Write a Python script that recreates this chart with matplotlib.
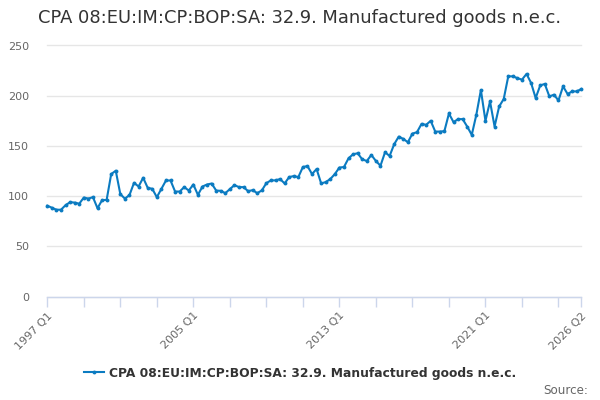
import matplotlib
matplotlib.use("Agg")
import matplotlib.pyplot as plt
import numpy as np

# Quarterly values 1997 Q1 .. 2026 Q2
values = [
    90.5, 88.5, 86.5, 86.5,      # 1997
    91, 94, 93.6, 92.5,          # 1998
    98.6, 97.6, 99, 88,          # 1999
    96, 96.3, 122, 125.3,        # 2000
    102, 97.6, 101, 113.3,       # 2001
    109.6, 118.3, 108.3, 107.3,  # 2002
    99, 107.3, 115.6, 115.6,     # 2003
    104.6, 104.6, 109, 105.6,    # 2004
    111.6, 101.3, 109.6, 111.6,  # 2005
    112.6, 105.6, 105.3, 103,    # 2006
    107, 111, 109, 109,          # 2007
    105, 106, 103, 105.7,        # 2008
    113, 115.7, 115.7, 117,      # 2009
    112.7, 119, 120, 119,        # 2010
    129, 130, 122, 127,          # 2011
    112.7, 114, 117, 122,        # 2012
    128.5, 129, 137.7, 141.7,    # 2013
    142.7, 136.7, 135, 141,      # 2014
    135, 130.3, 143.7, 140,      # 2015
    151.7, 159.3, 157, 153.7,    # 2016
    162.3, 163.7, 172, 171,      # 2017
    175, 164.3, 164.3, 164.7,    # 2018
    182.3, 173.7, 176.7, 176.7,  # 2019
    169.3, 161, 181, 205.7,      # 2020
    175, 194.3, 169.3, 189.3,    # 2021
    196.7, 219.3, 219.3, 217.5,  # 2022
    216, 221.7, 212.7, 197.7,    # 2023
    210.3, 211.7, 199.3, 201,    # 2024
    195.3, 209.3, 201.7, 204.3,  # 2025
    204.3, 206.7,                # 2026
]
first_year = 1997
series_name = "CPA 08:EU:IM:CP:BOP:SA: 32.9. Manufactured goods n.e.c."
title = "CPA 08:EU:IM:CP:BOP:SA: 32.9. Manufactured goods n.e.c."
y_ticks = [0, 50, 100, 150, 200, 250]

n = len(values)
labels = [f"{first_year + i // 4} Q{i % 4 + 1}" for i in range(n)]
x = np.arange(n)

line_color = "#0b7bc1"
grid_color = "#e6e6e6"
axis_color = "#ccd6eb"
label_color = "#666666"

fig = plt.figure(figsize=(6, 4), dpi=100)
ax = fig.add_axes([47.3 / 600, 1 - 296.6 / 400, (581.3 - 47.3) / 600, (296.6 - 45.5) / 400])

ax.plot(x, values, color=line_color, lw=1.5, marker="o", markersize=2.8,
        markeredgewidth=0, label=series_name, clip_on=False, zorder=3)

ax.set_xlim(0, n - 1)
ax.set_ylim(0, 250)
ax.set_yticks(y_ticks)
ax.set_yticklabels([str(v) for v in y_ticks])
ax.grid(axis="y", color=grid_color, lw=1)
for gl in ax.get_ygridlines():
    gl.set_clip_on(False)
ax.set_axisbelow(True)

tick_pos = list(range(0, n, 8)) + [n - 1]
ax.set_xticks(tick_pos)
label_idx = {0, 32, 64, 96, n - 1}
ax.set_xticklabels([labels[i] if i in label_idx else "" for i in tick_pos],
                   rotation=45, ha="right", rotation_mode="anchor")

for s in ["top", "right", "left"]:
    ax.spines[s].set_visible(False)
ax.spines["bottom"].set_color(axis_color)
ax.spines["bottom"].set_linewidth(1)
ax.tick_params(axis="x", colors=axis_color, length=7, width=1, labelcolor=label_color,
               labelsize=8, pad=3)
ax.tick_params(axis="y", length=0, labelcolor=label_color, labelsize=8, pad=13)

fig.text(0.5, 1 - 18 / 400, title, ha="center", va="center", fontsize=12.9, color="#333333")

leg = fig.legend(loc="center", bbox_to_anchor=(0.5, 1 - 373 / 400), frameon=False,
                 prop={"weight": "bold", "size": 8.8}, handlelength=1.6, handletextpad=0.4)
for t in leg.get_texts():
    t.set_color("#333333")

fig.text(588 / 600, 1 - 390 / 400, "Source:", ha="right", va="center", fontsize=8.6,
         color=label_color)

fig.savefig("out.png", dpi=100)
